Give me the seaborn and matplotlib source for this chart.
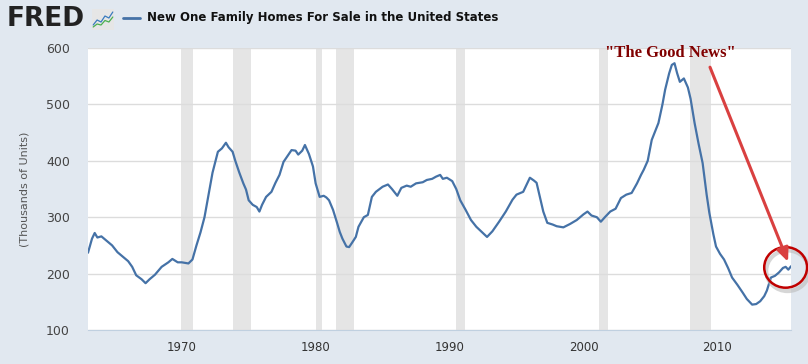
import matplotlib
matplotlib.use("Agg")
import matplotlib.pyplot as plt
import numpy as np
import pandas as pd
import seaborn as sns
from matplotlib.patches import Ellipse

# values (thousands of units), decimal years
years = [
    1963.0, 1963.3, 1963.5, 1963.7, 1964.0, 1964.4, 1964.8, 1965.2, 1965.7, 1966.0,
    1966.3, 1966.6, 1967.0, 1967.3, 1967.6, 1968.0, 1968.5, 1969.0, 1969.3, 1969.7,
    1970.0, 1970.5, 1970.8, 1971.1, 1971.4, 1971.7, 1971.9, 1972.3, 1972.7, 1973.0,
    1973.3, 1973.5, 1973.8, 1974.0, 1974.3, 1974.6, 1974.8, 1975.0, 1975.3, 1975.6,
    1975.8, 1976.0, 1976.3, 1976.7, 1977.0, 1977.3, 1977.6, 1978.0, 1978.2, 1978.5,
    1978.7, 1979.0, 1979.2, 1979.5, 1979.8, 1980.0, 1980.3, 1980.6, 1980.8, 1981.0,
    1981.3, 1981.6, 1981.8, 1982.0, 1982.3, 1982.5, 1982.7, 1983.0, 1983.2, 1983.6,
    1983.9, 1984.2, 1984.5, 1985.0, 1985.4, 1985.7, 1986.1, 1986.4, 1986.8, 1987.1,
    1987.5, 1988.0, 1988.3, 1988.7, 1989.0, 1989.3, 1989.5, 1989.8, 1990.2, 1990.5,
    1990.8, 1991.2, 1991.6, 1992.0, 1992.4, 1992.8, 1993.2, 1993.7, 1994.2, 1994.7,
    1995.0, 1995.5, 1995.8, 1996.0, 1996.3, 1996.5, 1996.8, 1997.0, 1997.3, 1997.7,
    1998.0, 1998.5, 1999.0, 1999.5, 2000.0, 2000.3, 2000.6, 2001.0, 2001.3, 2001.6,
    2002.0, 2002.4, 2002.8, 2003.2, 2003.6, 2004.0, 2004.3, 2004.5, 2004.8, 2005.1,
    2005.4, 2005.6, 2005.9, 2006.1, 2006.4, 2006.6, 2006.8, 2007.0, 2007.2, 2007.5,
    2007.8, 2008.0, 2008.3, 2008.6, 2008.9, 2009.2, 2009.4, 2009.7, 2009.9, 2010.2,
    2010.5, 2010.8, 2011.1, 2011.5, 2011.9, 2012.2, 2012.6, 2012.9, 2013.2, 2013.5,
    2013.7, 2014.0, 2014.3, 2014.6, 2014.9, 2015.1, 2015.3, 2015.5,
]
homes_for_sale = [
    237, 262, 272, 264, 266, 258, 250, 238, 228, 222,
    212, 197, 190, 183, 190, 198, 212, 220, 226, 220,
    220, 218, 225, 250, 273, 300, 326, 379, 416, 422,
    432, 424, 416, 400, 379, 360, 349, 330, 322, 318,
    310, 322, 336, 345, 361, 375, 398, 412, 419, 418,
    411, 418, 428, 412, 390, 360, 336, 338, 335, 330,
    313, 290, 274, 262, 248, 247, 254, 265, 283, 300,
    304, 336, 345, 354, 358, 350, 338, 352, 356, 354,
    360, 362, 366, 368, 372, 375, 368, 370, 364, 350,
    330, 313, 295, 283, 274, 265, 275, 292, 310, 331,
    340, 345, 360, 370, 365, 361, 330, 310, 290, 287,
    284, 282, 288, 295, 305, 310, 303, 300, 292, 300,
    310, 315, 334, 340, 343, 360, 375, 384, 400, 437,
    455, 467, 500, 526, 555, 570, 573, 555, 540, 546,
    530, 510, 467, 430, 396, 340, 308, 270, 248, 235,
    225, 210, 193, 180, 166, 155, 145, 146, 151, 160,
    170, 193, 196, 202, 210, 212, 207, 213,
]

# NBER recessions (start, end) in decimal years
rec_start = [1969.92, 1973.83, 1980.0, 1981.5, 1990.5, 2001.17, 2007.92]
rec_end = [1970.83, 1975.17, 1980.5, 1982.83, 1991.17, 2001.83, 2009.5]

tick_years = [1970, 1980, 1990, 2000, 2010]
y_ticks = [100, 200, 300, 400, 500, 600]

title = "New One Family Homes For Sale in the United States"
note = '"The Good News"'

bg = "#e1e8f0"
line_color = "#4572a7"

sns.set_style("white")
plt.rcParams["font.family"] = ["DejaVu Sans"]

df = pd.DataFrame({"year": years, "value": homes_for_sale})

fig = plt.figure(figsize=(8.08, 3.64), dpi=100, facecolor=bg)
ax = fig.add_axes([88 / 808, 1 - 330 / 364, (791 - 88) / 808, (330 - 48) / 364])
ax.set_facecolor("white")

for s, e in zip(rec_start, rec_end):
    ax.axvspan(s, e, color="#e5e5e5", lw=0, zorder=0)

for v in y_ticks:
    ax.axhline(v, color="#dcdcdc", lw=1, zorder=0.5)

sns.lineplot(data=df, x="year", y="value", color=line_color, lw=1.6, ax=ax, zorder=3)

ax.set_xlim(years[0], years[-1])
ax.set_ylim(y_ticks[0], y_ticks[-1])
ax.set_xticks(tick_years)
ax.set_xticklabels([str(y) for y in tick_years])
ax.set_yticks(y_ticks)
ax.set_xlabel("")
ax.set_ylabel("(Thousands of Units)", fontsize=8, color="#555555", labelpad=12)
ax.tick_params(axis="x", length=7, color="#c0d0e0", labelsize=8.5, labelcolor="#333333", pad=1)
ax.tick_params(axis="y", length=0, labelsize=9, labelcolor="#444444", pad=13)
for side in ["top", "right", "left"]:
    ax.spines[side].set_visible(False)
ax.spines["bottom"].set_color("#c0d0e0")

# annotation: circle around the latest readings, arrow and label
cx, cy = years[-3], homes_for_sale[-3] - 1
shadow = Ellipse((cx + 0.15, cy - 6), 3.2, 72, fill=False, ec="#bbbbbb", lw=3, alpha=0.6,
                 zorder=4, clip_on=False)
ax.add_patch(shadow)
ring = Ellipse((cx, cy), 3.2, 72, fill=False, ec="#c00000", lw=1.8, zorder=5, clip_on=False)
ax.add_patch(ring)
ax.annotate("", xy=(2015.28, 221), xytext=(2009.45, 566),
            arrowprops=dict(arrowstyle="-|>,head_length=0.8,head_width=0.35",
                            color="#d94040", lw=2.2, shrinkA=0, shrinkB=0), zorder=6)
ax.text(2006.5, 592, note, family=["Liberation Serif"], fontweight="bold",
        fontsize=12, color="#800000", ha="center", va="center", zorder=6, clip_on=False)

# header: FRED logo and legend entry
fig.text(7 / 808, 1 - 19 / 364, "FRED", fontsize=19, fontweight="bold", color="#222222",
         va="center", ha="left")
icon = fig.add_axes([92 / 808, 1 - 30 / 364, 22 / 808, 21 / 364])
icon.set_facecolor("#e6e6e6")
icon.plot([0, 1, 2, 3, 4, 5], [1, 2, 1.6, 2.8, 2.4, 3.6], color="#3a7bbf", lw=0.9)
icon.plot([0, 1, 2, 3, 4, 5], [0.6, 1.2, 1.0, 1.9, 1.6, 2.6], color="#4caf50", lw=0.9)
icon.set_xlim(-0.3, 5.3)
icon.set_ylim(0, 4.2)
icon.set_xticks([])
icon.set_yticks([])
for sp in icon.spines.values():
    sp.set_visible(False)

fig.add_artist(plt.Line2D([123 / 808, 140 / 808], [1 - 18 / 364, 1 - 18 / 364],
                          color=line_color, lw=2, transform=fig.transFigure))
fig.text(147 / 808, 1 - 18 / 364, title, fontsize=8.5, fontweight="bold", color="#111111",
         va="center", ha="left")

fig.savefig("out.png", dpi=100, facecolor=bg)
